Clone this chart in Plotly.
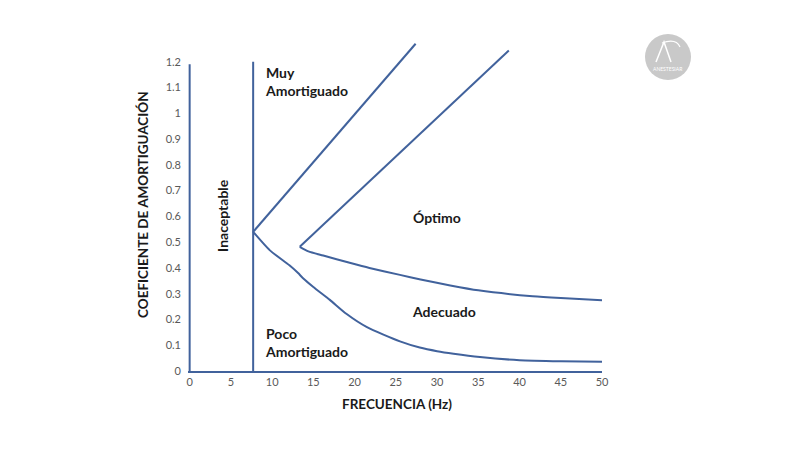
import plotly.graph_objects as go

# ---- data ----
y_ticks = [0, 0.1, 0.2, 0.3, 0.4, 0.5, 0.6, 0.7, 0.8, 0.9, 1.0, 1.1, 1.2]
y_tick_text = ["0", "0.1", "0.2", "0.3", "0.4", "0.5", "0.6", "0.7", "0.8", "0.9", "1", "1.1", "1.2"]
x_ticks = [0, 5, 10, 15, 20, 25, 30, 35, 40, 45, 50]

axis_x = [0, 0]
axis_y = [0, 1.19]

limit_x = [7.7, 7.7]
limit_y = [0, 1.2]

muy_x = [7.7, 27.4]
muy_y = [0.54, 1.27]

opt_x = [13.35, 38.7]
opt_y = [0.482, 1.244]

upper_x = [13.35, 14.4, 16.2, 19.4, 21.8, 25.5, 28, 31.6, 35, 41.6, 45, 50]
upper_y = [0.482, 0.464, 0.448, 0.42, 0.40, 0.373, 0.355, 0.332, 0.313, 0.29, 0.283, 0.275]

lower_x = [7.7, 9.7, 12.1, 13.15, 13.75, 15, 17, 19, 21.5, 25.5, 27.9, 30, 32, 35.2, 40, 45, 50]
lower_y = [0.54, 0.469, 0.41, 0.38, 0.36, 0.326, 0.276, 0.222, 0.17, 0.115, 0.091, 0.077, 0.067, 0.054, 0.042, 0.038, 0.036]

LINE = "#41629C"
FONT = "Lato"

fig = go.Figure()
for xs, ys, smooth in [(axis_x, axis_y, False), (limit_x, limit_y, False),
                       (muy_x, muy_y, False), (opt_x, opt_y, False),
                       (upper_x, upper_y, True), (lower_x, lower_y, True)]:
    line = dict(color=LINE, width=2)
    if smooth:
        line.update(shape="spline", smoothing=0.6)
    fig.add_trace(go.Scatter(x=xs, y=ys, mode="lines", line=line,
                             hoverinfo="skip", showlegend=False))

lab = dict(family=FONT, size=14, color="#1a1a1a")
fig.add_annotation(x=8.86, y=1.124, text="<b>Muy<br>Amortiguado</b>", showarrow=False,
                   xanchor="left", yanchor="middle", align="left", font=lab)
fig.add_annotation(x=8.86, y=0.112, text="<b>Poco<br>Amortiguado</b>", showarrow=False,
                   xanchor="left", yanchor="middle", align="left", font=lab)
fig.add_annotation(x=3.9, y=0.605, text="<b>Inaceptable</b>", showarrow=False,
                   textangle=-90, font=lab)
fig.add_annotation(x=30, y=0.597, text="<b>Óptimo</b>", showarrow=False, font=lab)
fig.add_annotation(x=30.8, y=0.229, text="<b>Adecuado</b>", showarrow=False, font=lab)


# screen-pixel helpers (plot area spans x 188..602, y 36..371 on screen)
def px(xp):
    return (xp - 188) / 414


def py(yp):
    return (371 - yp) / 335


ttl = dict(family=FONT, size=13.5, color="#1a1a1a")
fig.add_annotation(xref="paper", yref="paper", x=px(397), y=py(404),
                   xanchor="center", yanchor="middle",
                   text="<b>FRECUENCIA (Hz)</b>", showarrow=False, font=ttl)
fig.add_annotation(xref="paper", yref="paper", x=px(143), y=py(205),
                   xanchor="center", yanchor="middle",
                   text="<b>COEFICIENTE DE AMORTIGUACIÓN</b>", showarrow=False,
                   textangle=-90, font=ttl)

# logo
fig.add_shape(type="circle", xref="paper", yref="paper",
              x0=px(645), x1=px(691), y0=py(80), y1=py(34),
              fillcolor="#c9c9c9", line=dict(width=0))
fig.add_shape(type="path", xref="paper", yref="paper",
              path=f"M {px(656)},{py(62)} L {px(664)},{py(42)} L {px(671)},{py(62)}",
              line=dict(color="white", width=1.5))
fig.add_shape(type="path", xref="paper", yref="paper",
              path=f"M {px(662)},{py(43)} Q {px(676)},{py(38)} {px(680)},{py(47)}",
              line=dict(color="white", width=1.2))
fig.add_annotation(xref="paper", yref="paper", x=px(668), y=py(69),
                   xanchor="center", yanchor="middle",
                   text="ANESTESIAR", showarrow=False,
                   font=dict(family=FONT, size=5, color="white"))

tickfont = dict(family=FONT, size=11, color="#595959")
fig.update_layout(
    width=800, height=450,
    margin=dict(l=180, r=206, t=28, b=87),
    paper_bgcolor="white", plot_bgcolor="white",
    xaxis=dict(range=[-0.2, 50], tickvals=x_ticks, showgrid=False, zeroline=False,
               showline=True, linecolor=LINE, linewidth=2, ticks="",
               tickfont=tickfont),
    yaxis=dict(range=[0, 1.3], tickvals=y_ticks, ticktext=y_tick_text, showgrid=False,
               zeroline=False, showline=False, ticks="", ticklabelstandoff=6,
               tickfont=tickfont),
)

fig.write_html("out.html")
